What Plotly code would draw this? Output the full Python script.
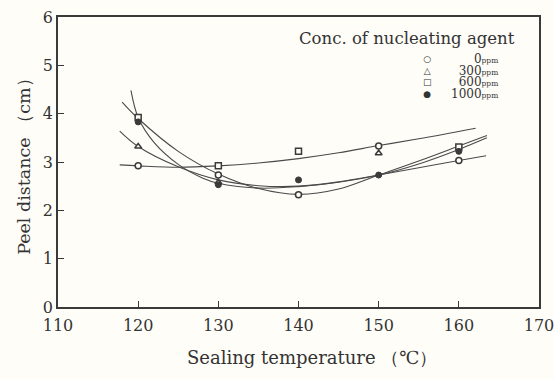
import plotly.graph_objects as go

# ---- marker data ----
circ_x = [120, 130, 140, 150, 160]
circ_y = [2.92, 2.73, 2.32, 3.33, 3.03]
tri_x = [120, 130, 150]
tri_y = [3.32, 2.58, 3.18]
sq_x = [120, 130, 140, 160]
sq_y = [3.92, 2.92, 3.22, 3.31]
fill_x = [120, 130, 140, 150, 160]
fill_y = [3.83, 2.53, 2.63, 2.73, 3.22]

# ---- fitted curves ----
curveA_x = [117.7, 120, 125, 130, 135, 140, 145, 150, 155, 162.1]
curveA_y = [2.94, 2.92, 2.89, 2.92, 2.98, 3.07, 3.19, 3.34, 3.48, 3.70]
curveB_x = [119.1, 120, 122, 125, 128, 130, 135, 140, 145, 150, 155, 160, 163.5]
curveB_y = [4.48, 3.92, 3.40, 2.95, 2.67, 2.56, 2.46, 2.49, 2.58, 2.73, 2.96, 3.26, 3.50]
curveC_x = [118.0, 120, 125, 130, 135, 140, 145, 150, 155, 160, 163.5]
curveC_y = [4.24, 3.90, 3.22, 2.75, 2.45, 2.33, 2.44, 2.73, 3.02, 3.33, 3.55]
curveD_x = [117.7, 120, 125, 130, 135, 140, 145, 150, 155, 160, 163.4]
curveD_y = [3.64, 3.32, 2.90, 2.63, 2.51, 2.50, 2.59, 2.73, 2.88, 3.03, 3.13]

x_ticks = [110, 120, 130, 140, 150, 160, 170]
y_ticks = [0, 1, 2, 3, 4, 5, 6]
legend_title = "Conc. of nucleating agent"
legend_labels = ["0", "300", "600", "1000"]
legend_symbols = ["○", "△", "□", "●"]
x_title = "Sealing temperature （℃）"
y_title = "Peel distance （cm）"

INK = "#3a3a3a"
TXT = "#333333"
SERIF = "DejaVu Serif"
BG = "#fefdf8"

fig = go.Figure()
for cx, cy in [(curveA_x, curveA_y), (curveB_x, curveB_y), (curveC_x, curveC_y), (curveD_x, curveD_y)]:
    fig.add_trace(go.Scatter(x=cx, y=cy, mode="lines",
                             line=dict(color="#4a4a4a", width=1.1, shape="spline", smoothing=1.0),
                             hoverinfo="skip", showlegend=False))

mk = dict(color=BG, size=6, line=dict(color=INK, width=1.5))
fig.add_trace(go.Scatter(x=circ_x, y=circ_y, mode="markers", marker=dict(symbol="circle", **mk), showlegend=False))
fig.add_trace(go.Scatter(x=tri_x, y=tri_y, mode="markers", marker=dict(symbol="triangle-up", **mk), showlegend=False))
fig.add_trace(go.Scatter(x=sq_x, y=sq_y, mode="markers", marker=dict(symbol="square", **mk), showlegend=False))
fig.add_trace(go.Scatter(x=fill_x, y=fill_y, mode="markers",
                         marker=dict(symbol="circle", color=INK, size=6, line=dict(color=INK, width=1)),
                         showlegend=False))

# legend as annotations (base font 9 -> 11.7px line spacing)
fig.add_annotation(x=0.954, y=0.927, xref="paper", yref="paper", xanchor="right", yanchor="middle",
                   text=legend_title, showarrow=False, font=dict(family=SERIF, size=16.5, color=TXT))
sym_text = "<br>".join(legend_symbols)
lab_text = "<br>".join(f"<span style='font-size:12px'>{l}</span><span style='font-size:7.5px'>ppm</span>"
                       for l in legend_labels)
fig.add_annotation(x=0.768, y=0.795, xref="paper", yref="paper", xanchor="center", yanchor="middle",
                   text=sym_text, showarrow=False, borderpad=0, align="center",
                   font=dict(family="DejaVu Sans", size=9, color=TXT))
fig.add_annotation(x=0.917, y=0.795, xref="paper", yref="paper", xanchor="right", yanchor="middle",
                   text=lab_text, showarrow=False, borderpad=0, align="right",
                   font=dict(family=SERIF, size=9, color=TXT))

# axis titles as annotations
fig.add_annotation(x=0.528, y=-0.175, xref="paper", yref="paper", xanchor="center", yanchor="middle",
                   text=x_title, showarrow=False, font=dict(family=SERIF, size=18, color=TXT))
fig.add_annotation(x=-0.071, y=0.5, xref="paper", yref="paper", xanchor="center", yanchor="middle",
                   text=y_title, textangle=-90, showarrow=False, font=dict(family=SERIF, size=17.5, color=TXT))

fig.update_layout(
    width=554, height=379,
    margin=dict(l=58, r=15, t=17, b=72),
    paper_bgcolor=BG, plot_bgcolor=BG,
    font=dict(family=SERIF, color=TXT),
    showlegend=False,
)
fig.update_xaxes(range=[110, 170], tickvals=x_ticks, ticks="inside", ticklen=6, tickcolor=INK,
                 ticklabeloverflow="allow", automargin=False, ticklabelstandoff=3,
                 showline=True, linecolor=INK, linewidth=1.5, mirror=True, showgrid=False, zeroline=False,
                 tickfont=dict(family=SERIF, size=16, color=TXT))
fig.update_yaxes(range=[0, 6], tickvals=y_ticks, ticks="inside", ticklen=6, tickcolor=INK,
                 automargin=False,
                 showline=True, linecolor=INK, linewidth=1.5, mirror=True, showgrid=False, zeroline=False,
                 tickfont=dict(family=SERIF, size=16, color=TXT))

fig.write_html("out.html")
